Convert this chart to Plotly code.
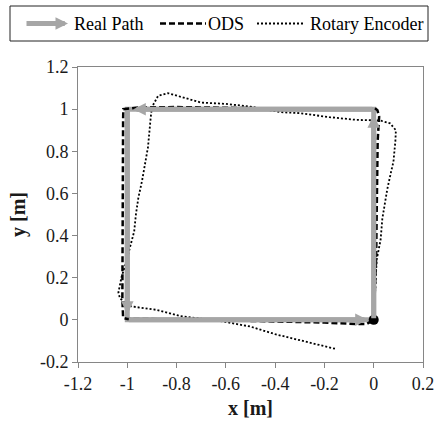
import plotly.graph_objects as go

# ---- data ----
real_x = [0, 0, -1, -1, 0]
real_y = [0, 1, 1, 0, 0]

ods_x = [0, 0.005, 0.01, 0.012, 0.014, 0.016, 0.022, 0.015, 0.005, -0.2, -0.4, -0.6, -0.8, -0.95,
         -1.016, -1.017, -1.018, -1.02, -1.022, -1.02, -1.017, -1.0, -0.8, -0.6, -0.4, -0.2,
         -0.07, -0.03, 0]
ods_y = [0, 0.15, 0.3, 0.5, 0.7, 0.85, 0.965, 0.995, 1.004, 1.0, 1.003, 1.006, 1.01, 1.008,
         1.0, 0.95, 0.7, 0.5, 0.3, 0.1, 0.01, 0.004, 0.003, -0.002, -0.008, -0.013,
         -0.02, -0.02, 0]

enc_x = [0, 0.005, 0.012, 0.028, 0.035, 0.045, 0.055, 0.07, 0.08, 0.088, 0.09, 0.066, 0.026,
         -0.07, -0.18, -0.3, -0.38, -0.5, -0.6, -0.7, -0.76, -0.806, -0.835, -0.875, -0.9,
         -0.905, -0.916, -0.94, -0.955, -0.965, -0.972, -0.99, -1.005, -1.023, -1.036, -1.03,
         -0.996, -0.88, -0.786, -0.61, -0.5, -0.4, -0.3, -0.25, -0.2, -0.15]
enc_y = [0, 0.15, 0.285, 0.38, 0.48, 0.55, 0.62, 0.7, 0.75, 0.85, 0.9, 0.933, 0.946,
         0.949, 0.962, 0.981, 0.986, 1.012, 1.025, 1.031, 1.05, 1.068, 1.076, 1.063, 1.01,
         0.96, 0.82, 0.66, 0.58, 0.5, 0.42, 0.34, 0.27, 0.205, 0.13, 0.103,
         0.066, 0.047, 0.018, -0.008, -0.032, -0.068, -0.098, -0.11, -0.125, -0.139]

x_ticks = [-1.2, -1, -0.8, -0.6, -0.4, -0.2, 0, 0.2]
x_labels = ["-1.2", "-1", "-0.8", "-0.6", "-0.4", "-0.2", "0", "0.2"]
y_ticks = [-0.2, 0, 0.2, 0.4, 0.6, 0.8, 1, 1.2]
y_labels = ["-0.2", "0", "0.2", "0.4", "0.6", "0.8", "1", "1.2"]

legend_names = ["Real Path", "ODS", "Rotary Encoder"]

FONT = "'Liberation Serif', 'Times New Roman', Times, 'DejaVu Serif', serif"
GRAY = "#a6a6a6"
AX = "#868686"

fig = go.Figure()
fig.add_trace(go.Scatter(x=real_x, y=real_y, mode="lines",
                         line=dict(color=GRAY, width=5), name=legend_names[0],
                         showlegend=False, hoverinfo="skip"))
fig.add_trace(go.Scatter(x=ods_x, y=ods_y, mode="lines",
                         line=dict(color="black", width=2.5, dash="6px,3px"),
                         name=legend_names[1], showlegend=False))
fig.add_trace(go.Scatter(x=enc_x, y=enc_y, mode="lines",
                         line=dict(color="black", width=1.8, dash="2px,2px"),
                         name=legend_names[2], showlegend=False))
fig.add_trace(go.Scatter(x=[real_x[0]], y=[real_y[0]], mode="markers",
                         marker=dict(color="black", size=10), showlegend=False))

annotations = []
# arrowheads at the end of each real-path segment
for i in range(len(real_x) - 1):
    annotations.append(dict(
        x=real_x[i + 1], y=real_y[i + 1], ax=real_x[i], ay=real_y[i],
        xref="x", yref="y", axref="x", ayref="y", text="", showarrow=True,
        arrowhead=2, arrowsize=0.5, arrowwidth=5, arrowcolor=GRAY, standoff=6))

# custom legend (paper coordinates)
def px_x(p):
    return (p - 78) / 345.0

def px_y(p):
    return (362 - p) / 295.0

ly = px_y(23.5)
annotations.append(dict(x=px_x(68), y=ly, xref="paper", yref="paper", ax=-43, ay=0,
                        text="", showarrow=True, arrowhead=2, arrowsize=0.5,
                        arrowwidth=5, arrowcolor=GRAY))
for name, left in zip(legend_names, [72, 206, 308]):
    annotations.append(dict(x=px_x(left), y=ly, xref="paper", yref="paper", text=name,
                            showarrow=False, xanchor="left", yanchor="middle",
                            font=dict(family=FONT, size=18, color="black")))

shapes = [
    dict(type="rect", xref="paper", yref="paper", x0=px_x(10), x1=px_x(428),
         y0=px_y(41), y1=px_y(6), line=dict(color="#222222", width=1)),
    dict(type="line", xref="paper", yref="paper", x0=px_x(160), x1=px_x(206),
         y0=ly, y1=ly, line=dict(color="black", width=2.5, dash="6px,3px")),
    dict(type="line", xref="paper", yref="paper", x0=px_x(257), x1=px_x(305),
         y0=ly, y1=ly, line=dict(color="black", width=1.8, dash="2px,2px")),
]

fig.update_layout(
    width=435, height=425,
    margin=dict(l=78, r=12, t=67, b=63, pad=0, autoexpand=False),
    paper_bgcolor="white", plot_bgcolor="white",
    font=dict(family=FONT, size=18, color="#1a1a1a"),
    annotations=annotations, shapes=shapes,
    showlegend=False,
)
fig.update_xaxes(range=[-1.2, 0.2], tickvals=x_ticks, ticktext=x_labels, automargin=False,
                 showgrid=False, zeroline=False, showline=True, linecolor=AX, linewidth=1,
                 mirror=True, ticks="outside", ticklen=5, tickcolor=AX,
                 tickfont=dict(family=FONT, size=18),
                 title=dict(text="<b>x [m]</b>", font=dict(family=FONT, size=20, color="#1a1a1a"),
                            standoff=8))
fig.update_yaxes(range=[-0.2, 1.2], tickvals=y_ticks, ticktext=y_labels, automargin=False,
                 showgrid=False, zeroline=False, showline=True, linecolor=AX, linewidth=1,
                 mirror=True, ticks="outside", ticklen=5, tickcolor=AX,
                 tickfont=dict(family=FONT, size=18),
                 title=dict(text="<b>y [m]</b>", font=dict(family=FONT, size=20, color="#1a1a1a"),
                            standoff=8))

fig.write_html("out.html")
